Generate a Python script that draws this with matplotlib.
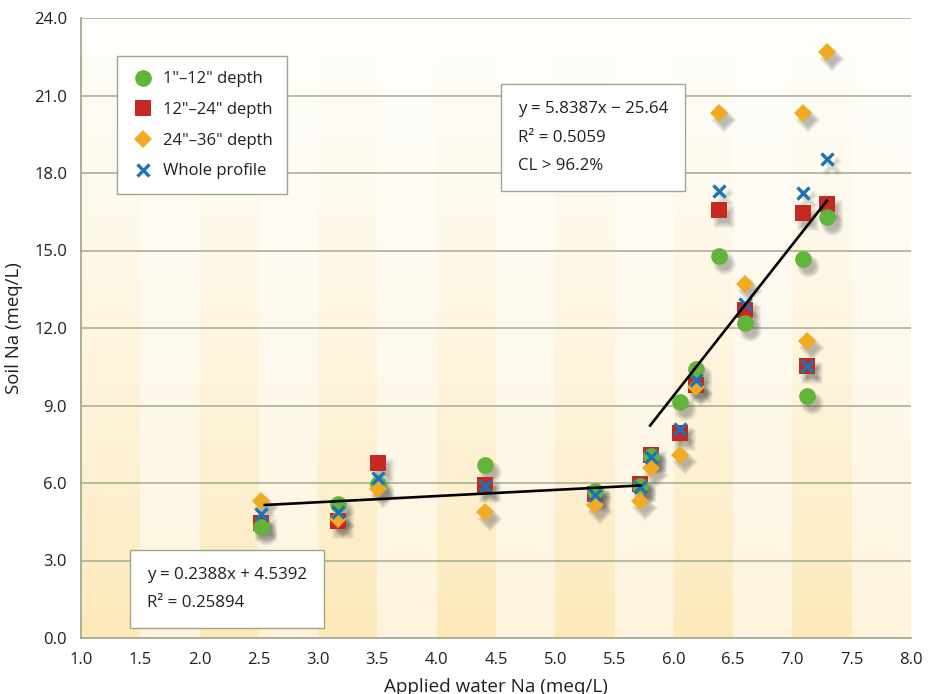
import numpy as np
import matplotlib
matplotlib.use("Agg")
import matplotlib.pyplot as plt
from matplotlib.transforms import offset_copy

plt.rcParams["font.family"] = ["Open Sans", "DejaVu Sans"]

# applied water Na for each sampled site
water_na = [2.52, 3.165, 3.505, 4.405, 5.335, 5.715, 5.805, 6.052, 6.19,
            6.38, 6.60, 7.085, 7.12, 7.29]
depth_1_12 = [4.30, 5.17, 5.95, 6.69, 5.69, 5.88, 7.03, 9.14, 10.43,
              14.80, 12.18, 14.66, 9.37, 16.29]
depth_12_24 = [4.45, 4.52, 6.78, 5.94, 5.59, 5.95, 7.10, 7.95, 9.79,
               16.57, 12.69, 16.47, 10.54, 16.80]
depth_24_36 = [5.29, 4.60, 5.78, 4.88, 5.14, 5.29, 6.58, 7.07, 9.72,
               20.34, 13.70, 20.32, 11.49, 22.67]
whole_profile = [4.81, 4.88, 6.21, 5.87, 5.52, 5.85, 7.01, 8.08, 9.98,
                 17.32, 12.93, 17.24, 10.54, 18.53]

# fitted lines: (slope, intercept, x start, x end)
fit_low = (0.2388, 4.5392, 2.55, 5.72)
fit_high = (5.8387, -25.64, 5.80, 7.29)

green = "#62b43a"
red = "#c42a21"
orange = "#f0ab22"
blue = "#1a74b8"
grid_col = "#a3aa8e"
txt_col = "#231f20"

fig = plt.figure(figsize=(9.37, 6.94), dpi=100)
ax = fig.add_axes([81 / 937, 56 / 694, 830 / 937, 620 / 694])
ax.set_xlim(1.0, 8.0)
ax.set_ylim(0.0, 24.0)

# striped background fading to white at the top
nx, ny = 14, 200
dark = np.array([253, 232, 182]) / 255
light = np.array([254, 243, 218]) / 255
top = np.array([255, 254, 251]) / 255
bg = np.zeros((ny, nx, 3))
for j in range(nx):
    base = dark if j % 2 == 0 else light
    for i in range(ny):
        t = i / (ny - 1)  # 0 at bottom, 1 at top
        w = t ** 0.7
        bg[i, j] = base * (1 - w) + top * w
ax.imshow(bg, extent=[1, 8, 0, 24], origin="lower", aspect="auto",
          interpolation="nearest", zorder=0)

for y in np.arange(3, 25, 3):
    ax.axhline(y, color=grid_col, lw=1.1, zorder=1)

series = [
    (depth_12_24, "s", red, 11, '12"\u201324" depth'),
    (depth_1_12, "o", green, 12, '1"\u201312" depth'),
    (depth_24_36, "D", orange, 9.5, '24"\u201336" depth'),
]

# soft drop shadows
shadow = offset_copy(ax.transData, fig=fig, x=5, y=-7, units="dots")
for vals, mk, col, ms, lab in series:
    for k in range(7):
        ax.plot(water_na, vals, ls="none", marker=mk, ms=ms - 3 + 1.2 * k,
                color="#404040", alpha=0.06, mew=0, transform=shadow, zorder=2)
for k in range(4):
    ax.plot(water_na, whole_profile, ls="none", marker="x", ms=8 + k,
            color="#404040", alpha=0.05, mew=2.0 + k, transform=shadow, zorder=2)

handles = {}
for z, (vals, mk, col, ms, lab) in enumerate(series):
    h, = ax.plot(water_na, vals, ls="none", marker=mk, ms=ms, color=col,
                 mew=0, label=lab, zorder=3 + z)
    handles[lab] = h
hx, = ax.plot(water_na, whole_profile, ls="none", marker="x", ms=9,
              color=blue, mew=2.4, label="Whole profile", zorder=7)

for m, b, x0, x1 in (fit_low, fit_high):
    xs = np.array([x0, x1])
    ax.plot(xs, m * xs + b, color="black", lw=1.9, zorder=8)

order = ['1"\u201312" depth', '12"\u201324" depth', '24"\u201336" depth']
leg = ax.legend([handles[k] for k in order] + [hx], order + ["Whole profile"],
                loc="upper left", bbox_to_anchor=(0.043, 0.938), fontsize=12,
                frameon=True, fancybox=False, borderpad=0.9, labelspacing=0.88,
                handletextpad=0.45, handlelength=1.4, borderaxespad=0)
leg.get_frame().set_edgecolor("#9da58a")
leg.get_frame().set_linewidth(1.0)
leg.get_frame().set_alpha(1)
leg.set_zorder(10)
for t in leg.get_texts():
    t.set_color(txt_col)

box = dict(boxstyle="square,pad=1.0", facecolor="white", edgecolor="#9da58a", lw=1.0)
ax.text(0.526, 0.866, "y = 5.8387x \u2212 25.64\nR\u00b2 = 0.5059\nCL > 96.2%",
        transform=ax.transAxes, fontsize=12.2, va="top", ha="left", color=txt_col,
        linespacing=2.05, bbox=box, zorder=10)
ax.text(0.079, 0.115, "y = 0.2388x + 4.5392\nR\u00b2 = 0.25894",
        transform=ax.transAxes, fontsize=12.2, va="top", ha="left", color=txt_col,
        linespacing=2.05, bbox=box, zorder=10)

ax.set_xticks(np.arange(1.0, 8.01, 0.5))
ax.set_yticks(np.arange(0, 24.01, 3))
ax.xaxis.set_major_formatter(plt.FormatStrFormatter("%.1f"))
ax.yaxis.set_major_formatter(plt.FormatStrFormatter("%.1f"))
ax.tick_params(length=0, labelsize=12, colors=txt_col, pad=10)
for s in ("top", "right"):
    ax.spines[s].set_visible(False)
for s in ("left", "bottom"):
    ax.spines[s].set_color(grid_col)
    ax.spines[s].set_linewidth(1.3)

ax.set_xlabel("Applied water Na (meq/L)", fontsize=13.6, color=txt_col, labelpad=7)
ax.set_ylabel("Soil Na (meq/L)", fontsize=13.4, color=txt_col, labelpad=8)

fig.savefig("out.png", dpi=100)
